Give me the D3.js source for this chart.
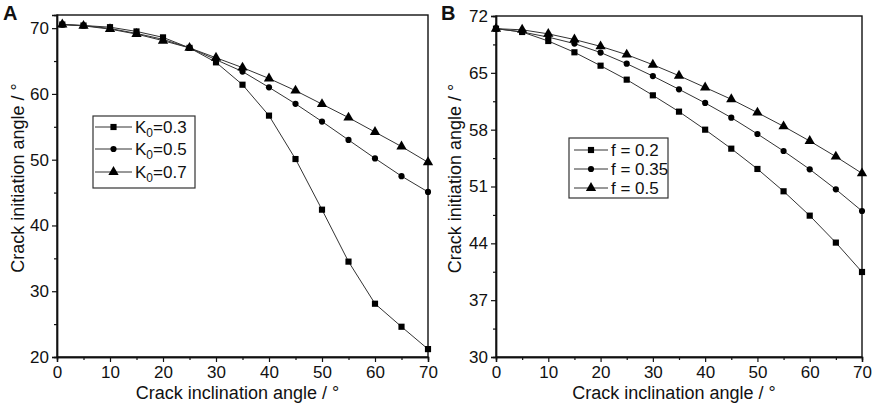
<!DOCTYPE html>
<html>
<head>
<meta charset="utf-8">
<script src="https://cdn.jsdelivr.net/npm/d3@7"></script>
<style>
  body { margin: 0; background: #fff; }
  svg text { font-family: "Liberation Sans", Arial, sans-serif; fill: #111; }
</style>
</head>
<body>
<svg id="chart" width="872" height="405"></svg>
<script>
// Panel A data: crack initiation angle vs inclination for different K0
const xA = [1, 5, 10, 15, 20, 25, 30, 35, 40, 45, 50, 55, 60, 65, 70];
const k03 = [70.55, 70.4, 70.15, 69.5, 68.6, 67.0, 64.8, 61.4, 56.7, 50.1, 42.4, 34.5, 28.1, 24.6, 21.2];
const k05 = [70.55, 70.4, 69.95, 69.2, 68.3, 67.0, 65.2, 63.4, 61.0, 58.5, 55.8, 53.0, 50.2, 47.5, 45.1];
const k07 = [70.55, 70.35, 69.85, 69.1, 68.1, 67.0, 65.5, 64.0, 62.35, 60.5, 58.45, 56.4, 54.2, 52.0, 49.6];
const labelsA = ["0.3", "0.5", "0.7"];
const yTicksA = [20, 30, 40, 50, 60, 70];

// Panel B data: different friction coefficient f
const xB = [0, 5, 10, 15, 20, 25, 30, 35, 40, 45, 50, 55, 60, 65, 70];
const f02 = [70.44, 70.03, 68.92, 67.53, 65.88, 64.16, 62.23, 60.22, 58.0, 55.66, 53.16, 50.41, 47.41, 44.09, 40.47];
const f035 = [70.44, 70.03, 69.4, 68.6, 67.5, 66.13, 64.6, 62.97, 61.29, 59.48, 57.47, 55.37, 53.12, 50.65, 47.98];
const f05 = [70.44, 70.3, 69.8, 69.1, 68.26, 67.24, 66.0, 64.65, 63.2, 61.74, 60.1, 58.41, 56.6, 54.68, 52.62];
const labelsB = ["f = 0.2", "f = 0.35", "f = 0.5"];
const yTicksB = [30, 37, 44, 51, 58, 65, 72];

const xTicks = [0, 10, 20, 30, 40, 50, 60, 70];
const xMinor = [5, 15, 25, 35, 45, 55, 65];

const svg = d3.select("svg#chart");
const symbols = [d3.symbolSquare, d3.symbolCircle, d3.symbolTriangle];
const symSizes = [38, 30, 46];

function drawPanel(opt) {
  const g = svg.append("g");
  const x = d3.scaleLinear().domain([0, 70]).range([opt.left, opt.right]);
  const y = d3.scaleLinear().domain(opt.yDomain).range([opt.bottom, opt.top]);

  // frame
  g.append("rect")
    .attr("x", opt.left).attr("y", opt.top)
    .attr("width", opt.right - opt.left).attr("height", opt.bottom - opt.top)
    .attr("fill", "none").attr("stroke", "#111").attr("stroke-width", 1.4);

  // axes
  g.append("g").attr("transform", `translate(0,${opt.bottom})`)
    .call(d3.axisBottom(x).tickValues(xTicks).tickSize(5).tickPadding(4));
  g.append("g").attr("transform", `translate(0,${opt.bottom})`)
    .call(d3.axisBottom(x).tickValues(xMinor).tickSize(3).tickFormat(""));
  g.append("g").attr("transform", `translate(${opt.left},0)`)
    .call(d3.axisLeft(y).tickValues(opt.yTicks).tickSize(5).tickPadding(3));
  g.append("g").attr("transform", `translate(${opt.left},0)`)
    .call(d3.axisLeft(y).tickValues(opt.yMinor).tickSize(3).tickFormat(""));
  g.selectAll(".domain").attr("stroke", "#111").attr("stroke-width", 1.4);
  g.selectAll(".tick line").attr("stroke", "#111").attr("stroke-width", 1.2);
  g.selectAll(".tick text").style("font-size", "17px").attr("fill", "#111");

  // axis titles
  g.append("text")
    .attr("x", (opt.left + opt.right) / 2 - 5).attr("y", 399)
    .attr("text-anchor", "middle").style("font-size", "18px")
    .text("Crack inclination angle / °");
  g.append("text")
    .attr("transform", `translate(${opt.left - opt.yTitleOff},${(opt.top + opt.bottom) / 2 - 8}) rotate(-90)`)
    .attr("text-anchor", "middle").style("font-size", "18px")
    .text("Crack initiation angle / °");

  // panel letter
  g.append("text")
    .attr("x", opt.letterX).attr("y", 20)
    .style("font-size", "20px").style("font-weight", "bold")
    .text(opt.letter);

  const line = d3.line().x(d => x(d[0])).y(d => y(d[1]));

  opt.series.forEach((vals, i) => {
    const pts = opt.xs.map((xv, j) => [xv, vals[j]]);
    g.append("path").datum(pts)
      .attr("d", line)
      .attr("fill", "none").attr("stroke", "#333").attr("stroke-width", 1);
    g.selectAll(null).data(pts).join("path")
      .attr("transform", d => `translate(${x(d[0])},${y(d[1])})`)
      .attr("d", d3.symbol(symbols[i], symSizes[i]))
      .attr("fill", "#000");
  });

  // legend
  const lg = g.append("g");
  lg.append("rect")
    .attr("x", opt.legend.x).attr("y", opt.legend.y)
    .attr("width", opt.legend.w).attr("height", opt.legend.h)
    .attr("fill", "#fff").attr("stroke", "#333").attr("stroke-width", 1.2);
  opt.series.forEach((vals, i) => {
    const ry = opt.legend.rows[i];
    lg.append("line")
      .attr("x1", opt.legend.x1).attr("x2", opt.legend.x2)
      .attr("y1", ry).attr("y2", ry)
      .attr("stroke", "#333").attr("stroke-width", 1);
    lg.append("path")
      .attr("transform", `translate(${(opt.legend.x1 + opt.legend.x2) / 2},${ry})`)
      .attr("d", d3.symbol(symbols[i], symSizes[i]))
      .attr("fill", "#000");
    const t = lg.append("text")
      .attr("x", opt.legend.tx).attr("y", ry + 6)
      .style("font-size", "17px");
    opt.legendText(t, i);
  });
}

drawPanel({
  left: 57, right: 428, top: 15, bottom: 357,
  yDomain: [20, 72], yTicks: yTicksA, yMinor: [25, 35, 45, 55, 65],
  xs: xA, series: [k03, k05, k07],
  letter: "A", letterX: 3, yTitleOff: 33,
  legend: { x: 93, y: 116, w: 102, h: 72, rows: [127, 149, 172], x1: 95, x2: 132, tx: 135 },
  legendText: (t, i) => {
    t.append("tspan").text("K");
    t.append("tspan").attr("dy", 4).style("font-size", "12px").text("0");
    t.append("tspan").attr("dy", -4).text("=" + labelsA[i]);
  }
});

drawPanel({
  left: 496, right: 862, top: 16, bottom: 357,
  yDomain: [30, 72], yTicks: yTicksB, yMinor: [33.5, 40.5, 47.5, 54.5, 61.5, 68.5],
  xs: xB, series: [f02, f035, f05],
  letter: "B", letterX: 441, yTitleOff: 35,
  legend: { x: 569, y: 138, w: 99, h: 60, rows: [150, 169, 188], x1: 574, x2: 608, tx: 611 },
  legendText: (t, i) => { t.text(labelsB[i]); }
});
</script>
</body>
</html>
